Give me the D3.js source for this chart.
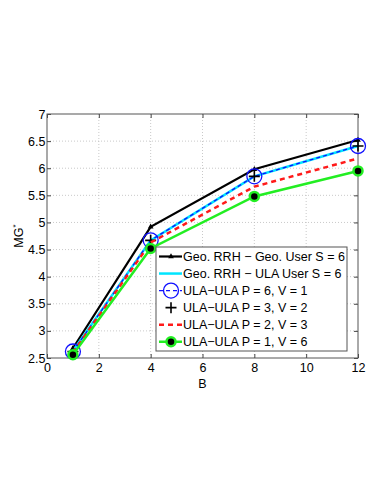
<!DOCTYPE html>
<html>
<head>
<meta charset="utf-8">
<script src="https://cdn.jsdelivr.net/npm/d3@7"></script>
<style>
  body { margin: 0; background: #fff; }
  svg { font-family: "Liberation Sans", Arial, sans-serif; }
</style>
</head>
<body>
<svg id="chart" width="382" height="494"></svg>
<script>
const bValues = [1, 4, 8, 12];
const geoGeo = [2.68, 4.92, 5.98, 6.52];
const geoUla = [2.63, 4.67, 5.85, 6.41];
const ulaP6 = [2.62, 4.67, 5.85, 6.41];
const ulaP3 = [2.62, 4.67, 5.85, 6.41];
const ulaP2 = [2.60, 4.63, 5.66, 6.18];
const ulaP1 = [2.56, 4.52, 5.48, 5.95];
const xTicks = [0, 2, 4, 6, 8, 10, 12];
const yTicks = [2.5, 3, 3.5, 4, 4.5, 5, 5.5, 6, 6.5, 7];

const series = [
  { name: 'Geo. RRH \u2212 Geo. User S = 6', values: geoGeo, color: '#000', width: 2.2, dash: null, marker: 'tri', line: true },
  { name: 'Geo. RRH \u2212 ULA User S = 6', values: geoUla, color: '#00e5ff', width: 2.5, dash: null, marker: null, line: true },
  { name: 'ULA\u2212ULA P = 6, V = 1', values: ulaP6, color: '#1010ff', width: 1.3, dash: '4,3', marker: 'circle', line: true },
  { name: 'ULA\u2212ULA P = 3, V = 2', values: ulaP3, color: '#000', width: 1.3, dash: null, marker: 'plus', line: false },
  { name: 'ULA\u2212ULA P = 2, V = 3', values: ulaP2, color: '#ff1a1a', width: 2.5, dash: '5,4', marker: null, line: true },
  { name: 'ULA\u2212ULA P = 1, V = 6', values: ulaP1, color: '#22ee22', width: 2.5, dash: null, marker: 'dot', line: true }
];

const svg = d3.select('#chart');
const mLeft = 47, mRight = 358, mTop = 114, mBottom = 358;

const x = d3.scaleLinear().domain([0, 12]).range([mLeft, mRight]);
const y = d3.scaleLinear().domain([2.5, 7]).range([mBottom, mTop]);

// grid
const grid = svg.append('g').attr('stroke', '#bbb').attr('stroke-dasharray', '1,2').attr('stroke-width', 0.8);
xTicks.slice(1, -1).forEach(t => grid.append('line').attr('x1', x(t)).attr('x2', x(t)).attr('y1', mTop).attr('y2', mBottom));
yTicks.slice(1, -1).forEach(t => grid.append('line').attr('x1', mLeft).attr('x2', mRight).attr('y1', y(t)).attr('y2', y(t)));

// axes with inward ticks
svg.append('g').attr('transform', `translate(0,${mBottom})`)
  .call(d3.axisBottom(x).tickValues(xTicks).tickSizeInner(-4).tickSizeOuter(0).tickPadding(8))
  .call(g => g.select('.domain').remove())
  .call(g => g.selectAll('text').attr('font-size', 12.5).attr('fill', '#000').attr('dy', '0.5em'));
svg.append('g').attr('transform', `translate(0,${mTop})`)
  .call(d3.axisTop(x).tickValues(xTicks).tickSizeInner(-4).tickSizeOuter(0).tickFormat(''))
  .call(g => g.select('.domain').remove());
svg.append('g').attr('transform', `translate(${mLeft},0)`)
  .call(d3.axisLeft(y).tickValues(yTicks).tickSizeInner(-4).tickSizeOuter(0).tickPadding(1.5).tickFormat(d3.format('')))
  .call(g => g.select('.domain').remove())
  .call(g => g.selectAll('text').attr('font-size', 12.5).attr('fill', '#000'));
svg.append('g').attr('transform', `translate(${mRight},0)`)
  .call(d3.axisRight(y).tickValues(yTicks).tickSizeInner(-4).tickSizeOuter(0).tickFormat(''))
  .call(g => g.select('.domain').remove());
svg.selectAll('.tick line').attr('stroke', '#444');

svg.append('rect').attr('x', mLeft).attr('y', mTop).attr('width', mRight - mLeft).attr('height', mBottom - mTop)
  .attr('fill', 'none').attr('stroke', '#555').attr('stroke-width', 1);

// labels
svg.append('text').attr('x', (mLeft + mRight) / 2).attr('y', 388).attr('text-anchor', 'middle')
  .attr('font-size', 12.5).text('B');
const yl = svg.append('text').attr('transform', `translate(23,${(mTop + mBottom) / 2}) rotate(-90)`)
  .attr('text-anchor', 'middle').attr('font-size', 12.5);
yl.append('tspan').text('MG');
yl.append('tspan').attr('font-size', 8).attr('dy', -5).text('*');

const line = d3.line().x((d, i) => x(bValues[i])).y(d => y(d));

function drawMarker(g, type, cx, cy, s) {
  if (type === 'tri') {
    g.append('path').attr('d', d3.symbol(d3.symbolTriangle, 14)()).attr('transform', `translate(${cx},${cy})`)
      .attr('fill', s.color);
  } else if (type === 'circle') {
    g.append('circle').attr('cx', cx).attr('cy', cy).attr('r', 7.5).attr('fill', 'none')
      .attr('stroke', s.color).attr('stroke-width', 1.3);
  } else if (type === 'plus') {
    g.append('path').attr('d', `M${cx - 5.5},${cy}H${cx + 5.5}M${cx},${cy - 5.5}V${cy + 5.5}`)
      .attr('stroke', s.color).attr('stroke-width', 1.6);
  } else if (type === 'dot') {
    g.append('circle').attr('cx', cx).attr('cy', cy).attr('r', 4.5).attr('fill', '#000')
      .attr('stroke', s.color).attr('stroke-width', 2.5);
  }
}

const plot = svg.append('g');
series.forEach(s => {
  if (s.line) {
    plot.append('path').datum(s.values).attr('d', line).attr('fill', 'none')
      .attr('stroke', s.color).attr('stroke-width', s.width)
      .attr('stroke-dasharray', s.dash);
  }
  if (s.marker) s.values.forEach((v, i) => drawMarker(plot, s.marker, x(bValues[i]), y(v), s));
});

// legend
const lg = svg.append('g');
const lx = 156, ly = 247, lw = 191, lh = 104;
lg.append('rect').attr('x', lx).attr('y', ly).attr('width', lw).attr('height', lh)
  .attr('fill', '#fff').attr('stroke', '#555').attr('stroke-width', 1);
series.forEach((s, i) => {
  const cy = ly + 9.5 + i * 17.05;
  if (s.line) {
    lg.append('line').attr('x1', lx + 3).attr('x2', lx + 26).attr('y1', cy).attr('y2', cy)
      .attr('stroke', s.color).attr('stroke-width', s.width).attr('stroke-dasharray', s.dash);
  }
  if (s.marker) drawMarker(lg, s.marker, lx + 15, cy, s);
  lg.append('text').attr('x', lx + 27).attr('y', cy).attr('dy', '0.35em')
    .attr('font-size', 12.5).text(s.name);
});
</script>
</body>
</html>
